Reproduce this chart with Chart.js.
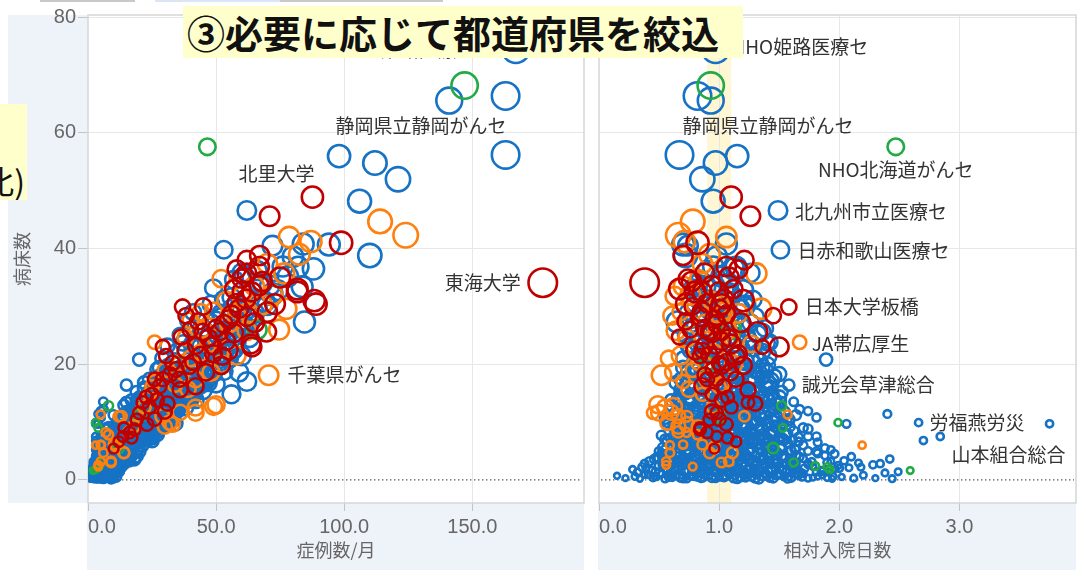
<!DOCTYPE html>
<html><head><meta charset="utf-8">
<script src="https://cdn.jsdelivr.net/npm/chart.js@4.4.1/dist/chart.umd.min.js"></script>
<style>
html,body{margin:0;padding:0;background:#fff;width:1086px;height:578px;overflow:hidden;}
#c1{position:absolute;left:0;top:0;}
#c2{position:absolute;left:592px;top:0;}
.title{position:absolute;left:183px;top:6px;width:560px;height:52px;background:#ffffcc;font-family:"Noto Sans CJK JP";font-weight:bold;font-size:38px;line-height:52px;padding-left:4px;box-sizing:border-box;white-space:nowrap;color:#111;overflow:hidden;}
.side{position:absolute;left:0;top:104px;width:27px;height:96px;background:#ffffcc;overflow:hidden;}
.side span{position:absolute;right:2px;bottom:0px;font-family:"Noto Sans CJK JP";font-size:32px;white-space:nowrap;color:#111;line-height:40px;}
.bar{position:absolute;top:0;height:2px;}
</style>
</head><body>
<canvas id="c1" width="592" height="578"></canvas>
<canvas id="c2" width="494" height="578"></canvas>
<div class="bar" style="left:40px;width:95px;background:#c9c9c9"></div>
<div class="bar" style="left:155px;width:125px;background:#dbe6f4"></div>
<div class="bar" style="left:280px;width:163px;background:#c9c9c9"></div>
<div class="side"><span>比)</span></div>
<div class="title">③必要に応じて都道府県を絞込</div>
<script>
// ---- tick labels / ranges ----
const yTicks = [0, 20, 40, 60, 80];
const casesTicks = [0, 50, 100, 150];
const losTicks = [0, 1, 2, 3];
const highlightBand = [0.9, 1.1];

// ---- hospitals: [cases per month, beds, relative length of stay] ----
const blueHospitals = [
 [163,66.4,0.82],[141,65.6,0.93],[112,54.8,0.97],[98,56,1.15],[121,52,0.86],[106,48.2,0.95],[110,38.8,0.72],[94,40.7,0.70],[84,40.8,1.06],[80,38.6,0.98],
 [72,40.5,0.74],[88,36.5,1.12],[76,36.9,0.95],[61,35.3,1.02],[83.6,33.4,0.88],[84.5,27.3,0.65],[72,32.3,1.08],[67,33.8,0.82],[66,30,1.21],[59,18.6,1.18],
 [62,17,1.42],[56,14.8,1.34],[60,21.4,1.40],[20,20.8,1.89],
 [1,0.3,0.22],[2,0.6,0.30],[1,0.9,0.38],[3,0.4,0.45],[2,1.0,0.52],[4,0.5,0.58],[3,0.8,0.64],[5,0.3,0.70],[2,0.7,0.76],[6,0.6,0.82],
 [4,1.0,0.88],[7,0.4,0.94],[3,0.5,1.00],[8,0.8,1.06],[5,0.3,1.12],[9,0.6,1.18],[4,0.9,1.24],[10,0.4,1.30],[6,0.7,1.36],[3,0.3,1.42],
 [7,0.9,1.48],[2,0.5,1.54],[5,0.4,1.60],[3,0.8,1.66],[2,0.3,1.74],[1,0.6,1.82],[2,0.4,1.90],[1,0.5,2.02],[2,0.3,2.12],[1,0.7,0.15],
 [1,0.2,0.34],[2,0.9,0.41],[1,0.5,0.48],[3,0.2,0.55],[2,0.4,0.61],[4,0.9,0.67],[3,0.2,0.73],[5,0.7,0.79],[2,0.2,0.85],[6,0.9,0.91],
 [4,0.3,0.97],[7,0.7,1.03],[3,1.1,1.09],[6,0.2,1.15],[8,1.0,1.21],[5,0.6,1.27],[9,0.2,1.33],[4,1.1,1.39],[6,0.3,1.45],[3,0.9,1.51],
 [4,0.2,1.57],[2,1.0,1.63],[3,0.5,1.69],[1,0.4,1.78],[2,0.9,1.86],[1,0.2,1.94],[1,0.3,2.30],[2,0.2,2.44],
 [2,1.8,0.28],[4,2.2,0.36],[3,1.6,0.44],[6,2.4,0.50],[5,1.9,0.57],[8,2.0,0.63],[4,2.5,0.69],[9,1.6,0.75],[6,2.2,0.81],[11,1.8,0.87],
 [7,2.4,0.93],[12,1.5,0.99],[5,2.1,1.05],[10,2.5,1.11],[8,1.7,1.17],[13,2.3,1.23],[6,1.9,1.29],[9,2.4,1.35],[4,1.6,1.41],[7,2.2,1.47],
 [3,1.8,1.53],[5,2.5,1.59],[2,1.7,1.65],[4,2.0,1.71],[2,2.3,1.78],[3,1.5,1.86],[1,1.9,1.97],[2,2.1,2.08],
 [3,1.3,0.32],[2,2.0,0.39],[4,1.4,0.47],[5,2.6,0.53],[6,1.3,0.60],[7,2.3,0.66],[5,1.4,0.72],[10,2.1,0.78],[8,1.3,0.84],[12,2.4,0.90],
 [9,1.5,0.96],[11,2.0,1.02],[7,1.3,1.08],[13,2.6,1.14],[10,1.4,1.20],[8,2.1,1.26],[11,1.3,1.32],[6,2.6,1.38],[9,1.4,1.44],[5,2.0,1.50],
 [7,1.3,1.56],[4,2.4,1.62],[3,1.3,1.68],[2,2.6,1.74],[3,1.4,1.81],[2,1.3,1.91],[2,2.5,1.99],
 [3,0.6,0.47],[5,1.2,0.50],[4,2.7,0.54],[6,0.9,0.59],[7,1.7,0.62],[5,2.9,0.65],[8,0.5,0.68],[6,1.5,0.71],[9,2.8,0.74],[7,0.8,0.77],
 [10,1.9,0.80],[8,2.7,0.83],[11,0.6,0.86],[9,1.3,0.89],[12,2.9,0.92],[10,0.9,0.95],[8,1.9,0.98],[11,2.8,1.01],[9,0.6,1.04],[12,1.6,1.07],
 [10,2.9,1.10],[8,0.9,1.13],[11,1.8,1.16],[9,2.7,1.19],[7,0.5,1.22],[10,1.6,1.25],[8,2.9,1.28],[6,1.0,1.31],[9,1.8,1.34],[7,2.8,1.37],
 [5,0.7,1.40],[8,1.6,1.43],[6,2.9,1.46],[4,1.1,1.49],[7,1.8,1.52],[5,2.8,1.55],[3,0.6,1.58],[4,1.9,1.61],[3,2.8,1.64],[2,1.1,1.70],
 [5,3.2,0.42],[8,3.8,0.50],[6,4.4,0.56],[10,3.4,0.62],[12,4.1,0.68],[9,3.6,0.74],[14,4.4,0.80],[11,3.1,0.86],[15,3.9,0.92],[13,4.5,0.98],
 [16,3.3,1.04],[10,4.2,1.10],[14,3.7,1.16],[8,4.4,1.22],[12,3.2,1.28],[7,3.9,1.34],[10,4.5,1.40],[5,3.5,1.46],[8,4.1,1.52],[4,3.3,1.58],
 [6,4.3,1.64],[3,3.7,1.70],[4,3.1,1.77],[3,4.2,1.88],
 [4,2.8,0.38],[6,3.6,0.46],[5,4.6,0.52],[9,2.9,0.59],[11,4.5,0.65],[8,3.0,0.71],[13,3.5,0.77],[10,4.6,0.83],[14,2.8,0.89],[12,3.4,0.95],
 [15,4.3,1.01],[11,2.9,1.07],[13,4.6,1.13],[9,3.0,1.19],[12,3.8,1.25],[7,2.8,1.31],[10,3.6,1.37],[6,4.6,1.43],[9,2.9,1.49],[5,3.8,1.55],
 [7,2.7,1.61],[4,4.0,1.67],[3,2.8,1.74],[4,4.6,1.82],[2,3.2,1.93],[3,3.3,2.04],[2,2.9,2.16],
 [5,3.9,0.48],[7,5.6,0.53],[9,3.5,0.58],[11,6.2,0.61],[10,4.0,0.64],[13,5.7,0.67],[12,3.4,0.70],[15,6.1,0.73],[13,4.9,0.76],[16,3.6,0.79],
 [14,5.9,0.82],[17,4.2,0.85],[15,6.4,0.88],[18,3.7,0.91],[16,5.5,0.94],[19,4.1,0.97],[17,6.2,1.00],[18,3.5,1.03],[16,5.0,1.06],[19,6.3,1.09],
 [15,3.8,1.12],[17,5.7,1.15],[14,4.3,1.18],[16,6.4,1.21],[12,3.6,1.24],[14,5.5,1.27],[11,4.0,1.30],[13,6.2,1.33],[9,3.6,1.36],[11,5.6,1.39],
 [8,4.4,1.42],[10,6.1,1.45],[7,3.5,1.48],[8,5.4,1.51],[6,4.1,1.54],[6,6.3,1.57],[5,3.6,1.60],[4,5.3,1.64],
 [7,5.2,0.55],[10,5.8,0.61],[13,6.4,0.67],[16,5.4,0.73],[18,6.1,0.79],[14,5.6,0.85],[20,6.5,0.91],[17,5.1,0.97],[21,5.9,1.03],[15,6.3,1.09],
 [19,5.3,1.15],[12,6.0,1.21],[16,6.5,1.27],[10,5.5,1.33],[13,6.2,1.39],[8,5.0,1.45],[11,5.8,1.51],[6,6.4,1.57],[7,5.3,1.63],[5,6.0,1.70],
 [6,4.9,0.50],[9,6.8,0.57],[12,5.0,0.64],[15,6.9,0.70],[17,4.8,0.76],[13,6.6,0.82],[19,5.0,0.88],[16,6.8,0.94],[20,4.9,1.00],[18,6.7,1.06],
 [14,4.8,1.12],[17,7.0,1.18],[11,5.0,1.24],[15,6.8,1.30],[9,4.9,1.36],[12,6.7,1.42],[7,4.8,1.48],[10,6.9,1.54],[6,5.1,1.60],[5,6.6,1.66],
 [4,5.0,1.74],[4,6.5,1.82],[3,5.2,1.93],
 [10,7.2,0.60],[14,7.9,0.66],[18,8.4,0.72],[22,7.4,0.78],[24,8.2,0.84],[20,7.6,0.90],[26,8.5,0.96],[23,7.1,1.02],[27,7.9,1.08],[21,8.4,1.14],
 [25,7.3,1.20],[17,8.0,1.26],[22,8.5,1.32],[15,7.5,1.38],[19,8.2,1.44],[12,7.1,1.50],[14,7.8,1.56],[9,8.4,1.62],
 [9,7.0,0.55],[12,8.9,0.63],[15,7.2,0.69],[19,9.4,0.75],[21,7.0,0.81],[25,9.2,0.87],[22,7.1,0.93],[28,9.4,0.99],[24,7.2,1.05],[26,9.0,1.11],
 [20,7.0,1.17],[23,9.3,1.23],[16,7.2,1.29],[19,9.1,1.35],[13,7.0,1.41],[15,9.3,1.47],[10,7.1,1.53],[8,9.2,1.59],[6,7.4,1.66],[7,8.8,1.74],
 [8,7.7,0.52],[11,9.5,0.57],[13,6.8,0.62],[15,8.6,0.65],[17,6.6,0.69],[18,9.8,0.72],[20,8.0,0.75],[22,9.6,0.78],[21,6.9,0.81],[24,8.8,0.84],
 [23,7.4,0.87],[25,9.9,0.90],[24,7.7,0.93],[26,9.0,0.96],[25,6.8,0.99],[27,8.4,1.02],[25,9.7,1.05],[23,6.9,1.08],[26,8.6,1.11],[22,9.9,1.14],
 [24,7.6,1.17],[20,9.1,1.20],[21,6.7,1.23],[19,8.5,1.26],[18,9.8,1.29],[17,7.3,1.32],[16,8.9,1.35],[14,6.9,1.38],[15,9.6,1.41],[12,7.8,1.44],
 [13,9.2,1.47],[10,7.5,1.50],[11,9.8,1.53],[8,8.0,1.57],[7,6.9,1.61],
 [12,9.2,0.62],[17,9.9,0.68],[21,10.6,0.74],[26,9.4,0.80],[29,10.2,0.86],[24,9.6,0.92],[31,10.9,0.98],[27,9.1,1.04],[32,10.0,1.10],[25,10.7,1.16],
 [29,9.3,1.22],[20,10.3,1.28],[26,11.0,1.34],[18,9.7,1.40],[22,10.5,1.46],[14,9.5,1.52],[16,10.4,1.58],
 [13,10.0,0.58],[18,11.8,0.66],[23,9.8,0.72],[27,11.6,0.78],[30,9.6,0.84],[28,11.9,0.90],[33,10.4,0.96],[30,11.7,1.02],[34,9.8,1.08],[27,11.8,1.14],
 [31,10.1,1.20],[23,11.9,1.26],[28,9.7,1.32],[19,11.5,1.38],[24,10.0,1.44],[15,11.8,1.50],[12,10.2,1.56],[10,11.2,1.64],
 [12,10.6,0.55],[14,12.9,0.60],[17,11.3,0.63],[19,13.8,0.67],[22,10.4,0.70],[24,12.2,0.73],[26,13.9,0.76],[28,10.8,0.79],[30,12.6,0.82],[31,10.2,0.85],
 [33,13.6,0.88],[32,11.1,0.91],[34,12.9,0.94],[33,10.5,0.97],[35,12.1,1.00],[36,13.8,1.03],[33,11.3,1.06],[34,13.1,1.09],[31,10.6,1.12],[32,12.7,1.15],
 [29,13.9,1.18],[30,11.0,1.21],[27,12.9,1.24],[26,10.4,1.27],[25,13.6,1.30],[23,11.4,1.33],[22,12.6,1.36],[20,10.8,1.39],[21,13.7,1.42],[17,12.3,1.45],
 [16,10.9,1.48],[15,13.4,1.51],
 [16,11.6,0.64],[20,12.4,0.70],[26,13.2,0.76],[31,11.8,0.82],[35,12.7,0.88],[29,12.0,0.94],[37,13.4,1.00],[33,11.5,1.06],[38,12.5,1.12],[30,13.3,1.18],
 [34,11.9,1.24],[24,12.8,1.30],[28,13.5,1.36],[21,12.2,1.42],[25,13.0,1.48],[18,11.7,1.54],
 [17,13.8,0.60],[22,15.6,0.68],[28,14.0,0.74],[33,15.8,0.80],[38,13.6,0.86],[36,15.9,0.92],[40,13.9,0.98],[38,15.5,1.04],[42,13.8,1.10],[33,15.2,1.16],
 [37,13.7,1.22],[27,15.4,1.28],[31,14.0,1.34],[22,15.9,1.40],[26,13.8,1.46],[19,15.2,1.52],
 [20,14.2,0.66],[26,15.1,0.72],[31,16.2,0.78],[36,14.6,0.84],[41,15.6,0.90],[34,14.9,0.96],[44,16.4,1.02],[39,14.1,1.08],[45,15.4,1.14],[35,16.0,1.20],
 [40,14.5,1.26],[29,15.7,1.32],[32,16.5,1.38],[24,15.0,1.44],[27,14.3,1.50],
 [24,15.3,0.70],[27,17.6,0.73],[30,14.4,0.76],[33,16.3,0.79],[35,18.8,0.82],[37,15.1,0.85],[39,17.2,0.88],[42,19.6,0.91],[40,14.8,0.94],[43,16.7,0.97],
 [45,18.5,1.00],[42,15.6,1.03],[44,17.9,1.06],[46,19.3,1.09],[41,14.6,1.12],[43,16.2,1.15],[40,18.1,1.18],[38,19.7,1.21],[37,15.5,1.24],[35,17.3,1.27],
 [33,18.9,1.30],[30,15.2,1.33],[29,17.7,1.36],[27,19.1,1.39],[25,16.1,1.42],
 [22,16.8,0.64],[28,19.4,0.70],[34,17.0,0.76],[40,19.0,0.82],[45,16.9,0.88],[43,19.6,0.94],[47,16.8,1.00],[49,18.4,1.06],[50,16.6,1.12],[44,19.2,1.18],
 [46,16.9,1.24],[36,17.5,1.30],[31,19.6,1.36],[26,16.7,1.42],[30,18.3,1.50],
 [24,17.4,0.68],[30,18.6,0.74],[37,19.6,0.80],[42,17.8,0.86],[48,19.0,0.92],[40,18.2,0.98],[51,19.8,1.04],[45,17.2,1.10],[53,18.8,1.16],[41,19.4,1.22],
 [47,17.6,1.28],[34,18.4,1.34],[38,19.9,1.40],[28,17.9,1.46],
 [29,21.0,0.70],[35,22.4,0.76],[43,23.6,0.82],[48,21.4,0.88],[54,22.8,0.94],[46,21.8,1.00],[58,23.9,1.06],[51,20.8,1.12],[57,22.6,1.18],[44,23.2,1.24],
 [50,21.2,1.30],[38,22.2,1.36],[41,23.8,1.42],
 [31,23.2,0.74],[39,20.6,0.80],[46,23.0,0.86],[52,20.5,0.92],[50,23.4,0.98],[55,20.9,1.04],[56,22.1,1.10],[53,23.5,1.16],[47,20.4,1.22],[43,22.8,1.28],
 [34,20.6,1.34],[37,23.7,1.40],
 [36,25.0,0.72],[42,26.5,0.78],[50,27.6,0.84],[55,25.4,0.90],[61,26.8,0.96],[52,25.8,1.02],[64,27.9,1.08],[57,24.8,1.14],[62,26.4,1.20],[48,27.2,1.26],
 [54,25.2,1.32],[45,26.2,1.38],
 [39,27.6,0.76],[46,24.4,0.82],[52,28.8,0.88],[58,26.2,0.94],[60,29.2,1.00],[63,24.6,1.06],[59,27.4,1.12],[56,29.6,1.18],[50,24.2,1.24],[52,28.2,1.30],
 [44,25.6,1.36],
 [41,29.0,0.74],[48,30.4,0.80],[56,31.6,0.86],[62,29.4,0.92],[69,30.8,0.98],[59,29.8,1.04],[72,31.9,1.10],[65,28.8,1.16],[70,30.2,1.22],[53,31.2,1.28],
 [49,33.2,0.78],[57,34.6,0.84],[66,36.2,0.90],[71,33.6,0.96],[78,35.2,1.02],[68,34.0,1.08],[82,36.8,1.14],[74,32.8,1.20],[60,35.8,1.26],
 [4,11.4,2.40],[3,6.8,2.70],[3,7.5,2.84],[4,9.7,2.06],[3,3.6,2.42],[2,1.4,2.49],[2,1.2,2.38],[3,2.8,2.34],[3,2.6,2.28],[4,4.5,1.96],
 [5,4.9,1.81],[5,7.5,1.81],[5,7.5,1.74],[5,10.8,1.81],[5,11.9,1.74],[6,12.2,1.67],[2,0.8,2.20],[3,2.0,2.00],[4,3.0,1.90],[3,1.6,1.85],
 [2,0.6,1.95],[6,13.5,1.62],[7,9.0,1.70],[4,5.5,1.88],[3,4.0,2.10],[2,2.2,2.18]
];
const orangeHospitals = [
 [114,44.7,0.78],[124,42.3,0.66],[78.5,42,1.06],[87,41.2,0.71],[82.5,39,0.92],[76.6,35.7,1.31],[52,34.8,0.83],[77.4,29.6,1.35],[74.6,26,1.06],[65,33.5,0.70],
 [60,31.8,0.63],[58,28.4,0.61],[55,27,0.88],[62,25.8,0.64],[50,24.5,0.73],[47,23.5,1.27],[44,22,0.96],[40,21,0.58],[36,20.3,0.83],[52,20,1.12],
 [58,21.5,0.68],[48,18.6,0.62],[42,17.4,0.90],[39,15.7,0.75],[34,16.5,1.02],[50,13,0.49],[42,12.5,0.55],[36,11.7,0.60],[32,9.9,0.57],[29,11,0.66],
 [13,11,0.73],[18,9.3,0.82],[11,5.8,0.96],[14,4.7,1.11],[5,6,0.59],[9,3,1.02],[4,2.6,0.56],[12,11,1.21],[20,11.6,0.45],[30,9.2,0.66],
 [33,9.6,0.73],[42,11.6,0.50],[49,12.7,0.62],[5,6.1,0.70],[10,6.1,0.86],[14,4.7,0.92],[4,2.3,0.78],[9,3.2,1.08],[3,6,2.19],[5,11.3,1.57],
 [45,26,0.98],[38,24.6,1.10],[30,19,0.78],[26,17,0.70],[24,14.8,0.86],[22,12.6,0.95],[70,37.4,0.86],[68,30.3,1.00],[63,28.8,1.16],[72,32,0.76],
 [25,16.1,1.0],[44,29,0.68],[40,27.6,0.74],[54,31,0.94],[49,29.2,1.04],[7,8.2,0.73],[8,7.8,0.82],[6,4.7,0.59],[5,3.2,0.56],[16,8.3,0.66]
];
const redHospitals = [
 [70.9,45.6,1.26],[98.8,41,0.82],[62,38,1.21],[66.9,36.9,1.06],[68,34.3,0.77],[81.7,33,0.67],[88.3,31,1.20],[64,23,1.50],[69.6,25.6,1.32],[38.3,28.4,1.45],
 [36.4,24.7,0.67],[29.2,23,1.36],[30.5,21.4,0.84],[29.2,17.4,0.90],[26,17.4,0.98],[22.7,14.3,1.07],[21.4,13.4,1.24],[18.2,8.7,0.84],[16.2,8.2,0.90],[13.7,7.5,0.98],
 [52.5,21.4,1.14],[46,18.6,1.09],[39.6,19.7,1.02],[34.4,19.1,0.95],[35.7,17.4,1.14],[48.6,23.2,0.88],[51.3,25.6,0.92],[55,27.8,0.96],[59,29.6,1.00],[61.7,31.3,1.04],
 [64,32.5,0.86],[66.8,33.6,0.94],[63.6,23.5,1.10],[81.7,32.5,0.80],[89,30.4,0.73],[44.8,25.6,1.02],[42.2,23.2,0.97],[58,30.6,0.90],[56,28.6,1.06],[53,27,0.98],
 [50,26.2,0.88],[47,24.6,1.08],[60,32.6,1.00],[62,28.2,0.84],[57,25.4,0.94],[54,24,1.02],[44,21.6,0.92],[41,20.4,1.06],[38,22.4,0.86],[33,20.2,1.00],
 [32,18.2,0.88],[28,16.2,1.04],[25,14.8,0.94],[27,13.8,1.02],[24,12.6,1.10],[20,11.6,0.98],[19,10.4,0.92],[23,9.6,1.06],[17,7.3,1.07],[60,34.8,0.74],
 [57,33,1.12],[45,30,0.78],[43,27.4,0.72],[40,26,0.76],[49,21.8,1.16],[55,22.4,0.80],[65,27.2,1.18],[70,29,0.86],[73,30.4,1.02],[75,35,1.08],
 [67,38.8,0.70],[62,35.8,0.88],[58,36.4,1.16],[52,19.8,1.20],[31,13.2,1.30],[12,6.6,1.14],[10,5.4,0.96],[36,15.6,1.24],[42,16.2,0.86],[30,11.8,0.94],
 [26,10.5,1.0],[14,9,0.84]
];
const greenHospitals = [
 [147,68.2,0.93],[66,26,1.10],[3,9.9,1.99],[2,1.6,2.59],[3,1.8,1.92],[4,2.4,1.80],[5,3.0,1.62],[8,12.8,1.52],[12,5.5,1.45],[20,11,1.0],
 [35,20,0.9],[4,2.2,1.90],[4,9,1.53]
];

// ---- named hospitals: [name, cases per month, beds, relative length of stay] ----
const blueNamed = [["NHO姫路医療セ",167,74.5,0.97],["静岡県立静岡がんセ",163,56.2,0.67],["北九州市立医療セ",62,46.6,1.49],["日赤和歌山医療セ",53,39.8,1.51],["誠光会草津総合",15,16.4,1.58],["労福燕労災",3,9.9,2.66],["山本組合総合",3,9.7,3.75]];
const orangeNamed = [["千葉県がんセ",70.5,18.1,0.52],["JA帯広厚生",26,23.8,1.67]];
const redNamed = [["北里大学",87.6,48.9,1.10],["東海大学",177.5,34.1,0.38],["日本大学板橋",36.9,29.9,1.58]];
const greenNamed = [["NHO北海道がんセ",46.6,57.6,2.47]];

// ---- label placement (pixel offsets from the point, alignment) ----
const labelLayout = {
  left: {"北里大学":[2,-23,'right'],"静岡県立静岡がんセ":[1,-29,'right'],"NHO姫路医療セ":[-40,1,'right'],"東海大学":[-22,0,'right'],"千葉県がんセ":[19,0,'left']},
  right: {"NHO姫路医療セ":[16,-2,'left'],"静岡県立静岡がんセ":[3,-29,'left'],"NHO北海道がんセ":[0,23,'center'],"北九州市立医療セ":[17,1,'left'],
          "日赤和歌山医療セ":[17,1,'left'],"日本大学板橋":[16,0,'left'],"JA帯広厚生":[12,2,'left'],"誠光会草津総合":[13,0,'left'],
          "労福燕労災":[11,0,'left'],"山本組合総合":[16,31,'right']}
};

const series = [
  {rows: blueHospitals, named: blueNamed, color: '#1672c4', order: 4},
  {rows: greenHospitals, named: greenNamed, color: '#22aa46', order: 3},
  {rows: orangeHospitals, named: orangeNamed, color: '#ff800e', order: 2},
  {rows: redHospitals, named: redNamed, color: '#c00000', order: 1}
];
const allNamed = blueNamed.concat(orangeNamed, redNamed, greenNamed);

function radiusFor(c) { return 2 + 0.92 * Math.sqrt(c); }

function decor(panel) {
  return {
    id: 'decor_' + panel,
    beforeDraw(chart) {
      const {ctx, chartArea: a} = chart;
      ctx.save();
      ctx.fillStyle = '#eef2f9';
      if (panel === 'left') ctx.fillRect(8, a.top, a.left - 8, a.bottom - a.top);
      ctx.fillRect(a.left - 1, a.bottom, a.right - a.left + 1, 570 - a.bottom);
      if (panel === 'right') {
        const xs = chart.scales.x;
        const x0 = xs.getPixelForValue(highlightBand[0]), x1 = xs.getPixelForValue(highlightBand[1]);
        ctx.fillStyle = '#fff6d3';
        ctx.fillRect(x0, a.top, x1 - x0, a.bottom - a.top);
      }
      ctx.restore();
    },
    beforeDatasetsDraw(chart) {
      const {ctx, chartArea: a} = chart;
      ctx.save();
      ctx.strokeStyle = '#d6d6d6';
      ctx.lineWidth = 1.5;
      ctx.strokeRect(a.left, a.top, a.right - a.left, a.bottom - a.top);
      const y0 = chart.scales.y.getPixelForValue(0);
      ctx.strokeStyle = '#555';
      ctx.lineWidth = 1.3;
      ctx.setLineDash([1.4, 2.6]);
      ctx.beginPath();
      ctx.moveTo(a.left + 2, y0);
      ctx.lineTo(a.right - 2, y0);
      ctx.stroke();
      ctx.restore();
    },
    afterDatasetsDraw(chart) {
      const {ctx} = chart;
      const xs = chart.scales.x, ys = chart.scales.y;
      const layout = labelLayout[panel];
      ctx.save();
      ctx.font = '19px "Noto Sans CJK JP"';
      ctx.fillStyle = '#333';
      ctx.textBaseline = 'middle';
      allNamed.forEach(n => {
        const spec = layout[n[0]];
        if (!spec) return;
        const px = xs.getPixelForValue(panel === 'left' ? n[1] : n[3]);
        const py = ys.getPixelForValue(n[2]);
        ctx.textAlign = spec[2];
        ctx.fillText(n[0], px + spec[0], py + spec[1]);
      });
      ctx.restore();
    }
  };
}

function build(canvasId, panel) {
  const isLeft = panel === 'left';
  const xTickVals = isLeft ? casesTicks : losTicks;
  const xMax = isLeft ? 193.6 : 3.97;
  const datasets = series.map(s => ({
    data: s.rows.concat(s.named.map(n => n.slice(1))).map(r => ({x: isLeft ? r[0] : r[2], y: r[1], c: r[0]})),
    borderColor: s.color,
    backgroundColor: 'rgba(255,255,255,0)',
    borderWidth: 2.6,
    pointRadius: ctx => ctx.raw ? radiusFor(ctx.raw.c) : 3,
    order: s.order
  }));
  return new Chart(document.getElementById(canvasId), {
    type: 'scatter',
    data: {datasets},
    options: {
      responsive: false, animation: false, events: [],
      layout: {autoPadding: false, padding: isLeft ? {left: 8, top: 15, right: 8, bottom: 8} : {left: 7, top: 15, right: 10, bottom: 8}},
      plugins: {legend: {display: false}, tooltip: {enabled: false}},
      scales: {
        x: {
          type: 'linear', min: 0, max: xMax,
          afterBuildTicks: s => { s.ticks = xTickVals.concat([xMax]).map(v => ({value: v})); },
          ticks: {align: 'inner', autoSkip: false, maxRotation: 0, padding: 4, color: '#666',
                  font: {family: 'Liberation Sans', size: 20},
                  callback: v => v === xMax ? '' : Number(v).toFixed(1)},
          grid: {color: c => (c.tick && (c.tick.value === 0 || c.tick.value === xMax)) ? 'rgba(0,0,0,0)' : '#e7e7e7',
                 tickColor: c => (c.tick && c.tick.value === xMax) ? 'rgba(0,0,0,0)' : '#c4c4c4',
                 tickLength: 8, lineWidth: 1},
          border: {display: false},
          title: {display: true, text: isLeft ? '症例数/月' : '相対入院日数', color: '#666',
                  font: {family: 'Noto Sans CJK JP', size: 18}, padding: {top: 0, bottom: 9}},
          afterFit: s => { s.height = 67; s.paddingLeft = 0; s.paddingRight = 0; }
        },
        y: {
          type: 'linear', min: -4, max: 80.4,
          afterBuildTicks: s => { s.ticks = yTicks.map(v => ({value: v})); },
          ticks: {display: isLeft, padding: 2, color: '#666', font: {family: 'Liberation Sans', size: 20},
                  callback: v => String(v)},
          grid: {color: c => (c.tick && c.tick.value === 0) ? 'rgba(0,0,0,0)' : '#e7e7e7',
                 tickColor: '#c4c4c4', tickLength: 10, drawTicks: isLeft, lineWidth: 1},
          border: {display: false},
          title: {display: isLeft, text: '病床数', color: '#666',
                  font: {family: 'Noto Sans CJK JP', size: 18}, padding: {top: 3, bottom: 0}},
          afterFit: s => { s.width = isLeft ? 80 : 0; s.paddingTop = 0; s.paddingBottom = 0; }
        }
      }
    },
    plugins: [decor(panel)]
  });
}

build('c1', 'left');
build('c2', 'right');
</script>
</body></html>
